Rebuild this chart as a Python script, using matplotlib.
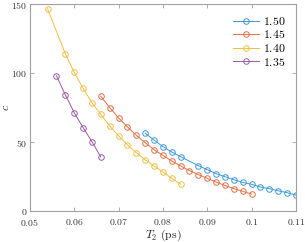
import matplotlib
matplotlib.use("Agg")
import matplotlib.pyplot as plt
from matplotlib.ticker import FuncFormatter

plt.rcParams['mathtext.fontset'] = 'cm'
plt.rcParams['font.family'] = 'serif'
plt.rcParams['font.serif'] = ['DejaVu Serif']

labels = ['1.50', '1.45', '1.40', '1.35']
colors = ['#3D98DA', '#E36F45', '#F2BE45', '#9A5AAA']

x_150 = [0.076, 0.078, 0.080, 0.082, 0.084, 0.088, 0.090, 0.092, 0.094, 0.096,
         0.098, 0.100, 0.102, 0.104, 0.106, 0.108, 0.110]
c_150 = [56.4, 51.5, 46.7, 42.8, 39.4, 32.9, 30.0, 27.1, 24.9, 22.7,
         20.8, 19.4, 17.4, 16.2, 14.7, 13.3, 11.6]

x_145 = [0.066, 0.068, 0.070, 0.072, 0.074, 0.076, 0.078, 0.080, 0.082, 0.084,
         0.086, 0.088, 0.090, 0.092, 0.094, 0.096, 0.098, 0.100]
c_145 = [83.2, 75.0, 67.5, 61.0, 54.9, 49.6, 44.5, 40.4, 36.3, 32.7,
         29.3, 26.4, 23.7, 21.0, 18.6, 16.2, 14.3, 12.3]

x_140 = [0.054, 0.058, 0.060, 0.062, 0.064, 0.066, 0.068, 0.070, 0.072, 0.074,
         0.076, 0.078, 0.080, 0.082, 0.084]
c_140 = [146.5, 114.0, 100.5, 89.0, 78.5, 70.0, 61.7, 54.5, 48.0, 42.3,
         37.2, 32.7, 28.3, 23.7, 19.5]

x_135 = [0.056, 0.058, 0.060, 0.062, 0.064, 0.066]
c_135 = [98.0, 84.2, 71.3, 60.5, 50.3, 39.2]

xticks = [0.05, 0.06, 0.07, 0.08, 0.09, 0.10, 0.11]
yticks = [0, 50, 100, 150]

series = [(x_150, c_150), (x_145, c_145), (x_140, c_140), (x_135, c_135)]

fig = plt.figure(figsize=(3.05, 2.42), dpi=100)
ax = fig.add_axes([0.098, 0.128, 0.872, 0.855])

for (xs, ys), lab, col in zip(series, labels, colors):
    ax.plot(xs, ys, '-o', color=col, lw=0.7, markersize=4.0,
            markerfacecolor='none', markeredgewidth=0.7, label='$' + lab + '$')

ax.set_xlim(0.05, 0.11)
ax.set_ylim(0, 150)
ax.set_xticks(xticks)
ax.set_yticks(yticks)

def fmt_x(v, pos):
    s = ('%.2f' % v).rstrip('0')
    return '$' + s + '$'

ax.xaxis.set_major_formatter(FuncFormatter(fmt_x))
ax.yaxis.set_major_formatter(FuncFormatter(lambda v, p: '$%d$' % v))

for sp in ax.spines.values():
    sp.set_color('#a0a0a0')
    sp.set_linewidth(0.8)
ax.tick_params(direction='in', top=True, right=True, length=3, width=0.6,
               color='#a0a0a0', labelsize=7, labelcolor='#333333')
ax.tick_params(axis='x', pad=4)
ax.tick_params(axis='y', pad=2)

ax.set_xlabel(r'$T_2\ \mathrm{(ps)}$', fontsize=8.5, labelpad=0.0, color='#222222')
ax.set_ylabel(r'$c$', fontsize=8.5, color='#222222')
ax.yaxis.set_label_coords(-0.068, 0.5)

leg = ax.legend(loc='upper right', fontsize=8.5, frameon=True, fancybox=False,
                edgecolor='white', framealpha=1, handlelength=2.2,
                handletextpad=0.3, borderaxespad=0.5, labelspacing=0.05)

fig.savefig('out.png', dpi=100)
